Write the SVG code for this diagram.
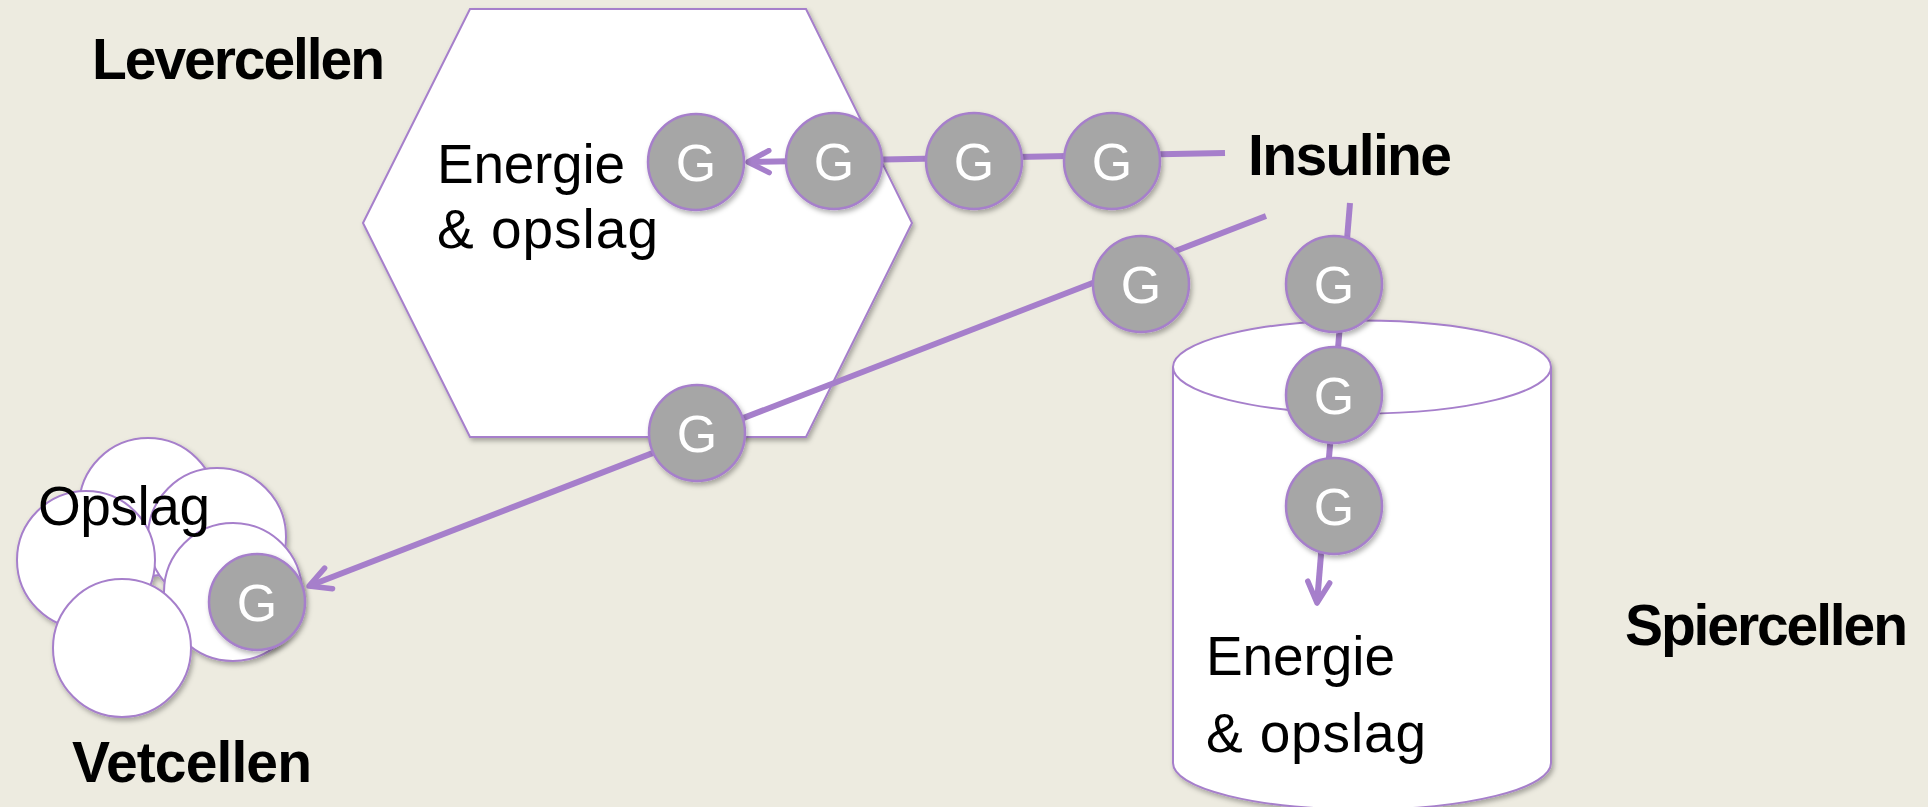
<svg xmlns="http://www.w3.org/2000/svg" width="1928" height="807" viewBox="0 0 1928 807">
  <style>
    .cell { fill: #ffffff; stroke: #A67FCB; stroke-width: 2; }
    .glu { fill: #A6A6A6; stroke: #A67FCB; stroke-width: 2.5; }
    .glu-t { font-family: "Liberation Sans", Arial, sans-serif; font-size: 52px; fill: #ffffff; text-anchor: middle; }
    .flow { fill: none; stroke: #A67FCB; stroke-width: 6; stroke-linecap: butt; }
    .lbl { font-family: "Liberation Sans", Arial, sans-serif; font-size: 55px; fill: #000000; }
    .title { font-family: "Liberation Sans", Arial, sans-serif; font-size: 57px; font-weight: bold; fill: #000000; }
  </style>
  <defs>
    <filter id="shade" x="-20%" y="-20%" width="140%" height="140%">
      <feDropShadow dx="2" dy="3" stdDeviation="2.5" flood-color="#000000" flood-opacity="0.3"/>
    </filter>
    <marker id="chevron" viewBox="-26 -14 30 28" refX="0" refY="0" markerWidth="30" markerHeight="28" markerUnits="userSpaceOnUse" orient="auto">
      <path d="M -21 -11 L 0 0 L -21 11" fill="none" stroke="#A67FCB" stroke-width="5.5" stroke-linecap="round" stroke-linejoin="round"/>
    </marker>
  </defs>

  <rect x="0" y="0" width="1928" height="807" fill="#EDEBE0"/>

  <!-- liver cell -->
  <g id="levercel">
    <polygon class="cell" filter="url(#shade)" points="363,223 470,9 806,9 912,223 806,437 470,437"/>
    <text class="lbl" x="437" y="183" textLength="188">Energie</text>
    <text class="lbl" x="437" y="248" textLength="221">&amp; opslag</text>
  </g>

  <!-- muscle cell -->
  <g id="spiercel">
    <path class="cell" filter="url(#shade)" d="M 1173 367 A 189 46.5 0 0 1 1551 367 L 1551 763 A 189 46.5 0 0 1 1173 763 Z"/>
    <path d="M 1173 367 A 189 46.5 0 0 0 1551 367" fill="none" stroke="#A67FCB" stroke-width="2"/>
    <text class="lbl" x="1206" y="675" textLength="189">Energie</text>
    <text class="lbl" x="1206" y="752" textLength="220">&amp; opslag</text>
  </g>

  <!-- fat cells -->
  <g id="vetcellen" filter="url(#shade)">
    <circle class="cell" cx="148" cy="507" r="69"/>
    <circle class="cell" cx="217" cy="537" r="69"/>
    <circle class="cell" cx="86" cy="560" r="69"/>
    <circle class="cell" cx="233" cy="592" r="69"/>
    <circle class="cell" cx="122" cy="648" r="69"/>
  </g>
  <text id="opslag-vet" class="lbl" x="38" y="525" textLength="172">Opslag</text>

  <!-- glucose routes -->
  <g id="connectors">
    <line class="flow" x1="1225" y1="153" x2="748" y2="162" marker-end="url(#chevron)"/>
    <line class="flow" x1="1266" y1="216" x2="309" y2="586" marker-end="url(#chevron)"/>
    <line class="flow" x1="1350" y1="203" x2="1317" y2="603" marker-end="url(#chevron)"/>
  </g>

  <!-- glucose molecules -->
  <g id="g-lever-1" filter="url(#shade)"><circle class="glu" cx="696" cy="162" r="48"/><text class="glu-t" x="696" y="181">G</text></g>
  <g id="g-lever-2" filter="url(#shade)"><circle class="glu" cx="834" cy="161" r="48"/><text class="glu-t" x="834" y="180">G</text></g>
  <g id="g-lever-3" filter="url(#shade)"><circle class="glu" cx="974" cy="161" r="48"/><text class="glu-t" x="974" y="180">G</text></g>
  <g id="g-lever-4" filter="url(#shade)"><circle class="glu" cx="1112" cy="161" r="48"/><text class="glu-t" x="1112" y="180">G</text></g>

  <g id="g-vet-1" filter="url(#shade)"><circle class="glu" cx="1141" cy="284" r="48"/><text class="glu-t" x="1141" y="303">G</text></g>
  <g id="g-vet-2" filter="url(#shade)"><circle class="glu" cx="697" cy="433" r="48"/><text class="glu-t" x="697" y="452">G</text></g>
  <g id="g-vet-3" filter="url(#shade)"><circle class="glu" cx="257" cy="602" r="48"/><text class="glu-t" x="257" y="621">G</text></g>

  <g id="g-spier-1" filter="url(#shade)"><circle class="glu" cx="1334" cy="284" r="48"/><text class="glu-t" x="1334" y="303">G</text></g>
  <g id="g-spier-2" filter="url(#shade)"><circle class="glu" cx="1334" cy="395" r="48"/><text class="glu-t" x="1334" y="414">G</text></g>
  <g id="g-spier-3" filter="url(#shade)"><circle class="glu" cx="1334" cy="506" r="48"/><text class="glu-t" x="1334" y="525">G</text></g>

  <!-- titles -->
  <g id="titels">
    <text class="title" x="92" y="79" textLength="293">Levercellen</text>
    <text class="title" x="1248" y="175" textLength="204">Insuline</text>
    <text class="title" x="1625" y="645" textLength="283">Spiercellen</text>
    <text class="title" x="72" y="782" textLength="240">Vetcellen</text>
  </g>
</svg>
